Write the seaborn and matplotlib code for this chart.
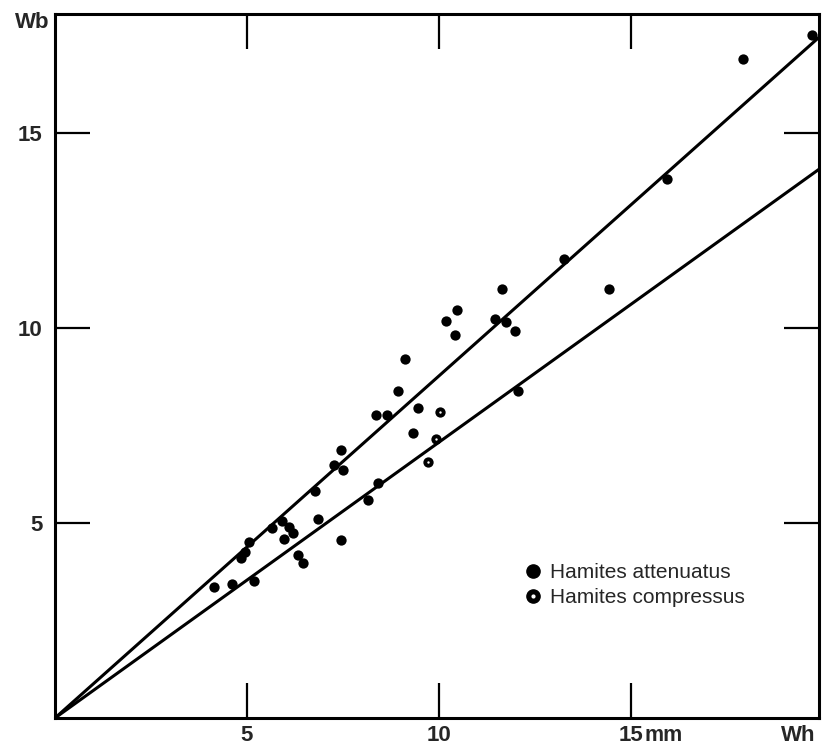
import matplotlib
matplotlib.use("Agg")
import matplotlib.pyplot as plt
import seaborn as sns
import pandas as pd
import numpy as np
from matplotlib.lines import Line2D

# ---- data ----
att_wh = [19.72, 17.91, 15.94, 13.27, 14.43, 11.65, 10.47, 10.18, 10.42, 11.47,
          11.74, 11.97, 12.06, 9.12, 8.94, 8.37, 8.64, 9.45, 9.32, 7.44,
          7.26, 7.49, 6.76, 8.41, 8.14, 6.84, 5.90, 5.66, 6.09, 6.21,
          5.06, 5.96, 7.44, 4.94, 4.84, 6.33, 6.46, 4.13, 4.62, 5.19]
att_wb = [17.51, 16.90, 13.82, 11.77, 10.99, 11.00, 10.45, 10.19, 9.81, 10.23,
          10.15, 9.92, 8.38, 9.21, 8.38, 7.76, 7.76, 7.95, 7.31, 6.86,
          6.49, 6.36, 5.82, 6.02, 5.59, 5.10, 5.06, 4.86, 4.89, 4.75,
          4.52, 4.59, 4.56, 4.26, 4.09, 4.18, 3.97, 3.36, 3.44, 3.52]
comp_wh = [10.03, 9.93, 9.71]
comp_wb = [7.85, 7.16, 6.57]

line_slopes = [0.877, 0.707]
line_x = [0.0, 20.0]

x_ticks = [5, 10, 15]
x_ticklabels = ["5", "10", "15"]
y_ticks = [5, 10, 15]
y_ticklabels = ["5", "10", "15"]

species = ["Hamites attenuatus", "Hamites compressus"]

# ---- figure ----
sns.set_style("white")
plt.rcParams["font.family"] = ["Liberation Sans", "DejaVu Sans"]

fig = plt.figure(figsize=(8.23, 7.47), dpi=100)
ax = fig.add_axes([55 / 823, 29 / 747, 764 / 823, 704 / 747])

att = pd.DataFrame({"Wh": att_wh, "Wb": att_wb})
comp = pd.DataFrame({"Wh": comp_wh, "Wb": comp_wb})

for s in line_slopes:
    ldf = pd.DataFrame({"x": line_x, "y": [s * v for v in line_x]})
    sns.lineplot(data=ldf, x="x", y="y", ax=ax, color="black", linewidth=2.2)

sns.scatterplot(data=att, x="Wh", y="Wb", ax=ax, color="black", s=55,
                edgecolor="black", linewidth=0, zorder=3)
sns.scatterplot(data=comp, x="Wh", y="Wb", ax=ax, color="black", s=55,
                edgecolor="black", linewidth=0, zorder=3)
sns.scatterplot(data=comp, x="Wh", y="Wb", ax=ax, color="white", s=3,
                linewidth=0, zorder=4)

ax.set_xlim(0, 19.9)
ax.set_ylim(0, 18.05)
ax.set_xlabel("")
ax.set_ylabel("")

ax.set_xticks(x_ticks)
ax.set_xticklabels(x_ticklabels)
ax.set_yticks(y_ticks)
ax.set_yticklabels(y_ticklabels)
ax.tick_params(axis="both", which="major", direction="in", length=25,
               width=1.6, color="black", labelsize=16,
               bottom=True, left=True, top=True, right=True,
               labelbottom=True, labelleft=True,
               labeltop=False, labelright=False)
ax.tick_params(axis="x", pad=5)
ax.tick_params(axis="y", pad=9)
for lab in ax.get_xticklabels() + ax.get_yticklabels():
    lab.set_fontweight("bold")

for sp in ax.spines.values():
    sp.set_visible(True)
    sp.set_color("black")
    sp.set_linewidth(2.2)

# axis captions (baseline-aligned with the tick labels)
ax.annotate("mm", xy=(15, 0), xycoords="data", xytext=(10, -16.5),
            textcoords="offset points", ha="left", va="baseline",
            fontsize=15.5, fontweight="bold", annotation_clip=False)
ax.annotate("Wh", xy=(19.35, 0), xycoords="data", xytext=(0, -16.5),
            textcoords="offset points", ha="center", va="baseline",
            fontsize=16, fontweight="bold", annotation_clip=False)
fig.text(32 / 823, 1 - 23 / 747, "Wb", ha="center", va="center",
         fontsize=16, fontweight="bold")

# legend
h_att = Line2D([], [], marker="o", linestyle="none", markersize=9.5,
               markerfacecolor="black", markeredgecolor="black")
h_comp_outer = Line2D([], [], marker="o", linestyle="none", markersize=9.5,
                      markerfacecolor="black", markeredgecolor="black")
h_comp_inner = Line2D([], [], marker="o", linestyle="none", markersize=2,
                      markerfacecolor="white", markeredgecolor="white")
ax.legend([h_att, (h_comp_outer, h_comp_inner)], species,
          loc="upper left", bbox_to_anchor=(0.6, 0.232), frameon=False,
          fontsize=15, handletextpad=0.25, labelspacing=0.3,
          handlelength=1.1, borderaxespad=0)

fig.savefig("out.png", dpi=100, facecolor="white")
